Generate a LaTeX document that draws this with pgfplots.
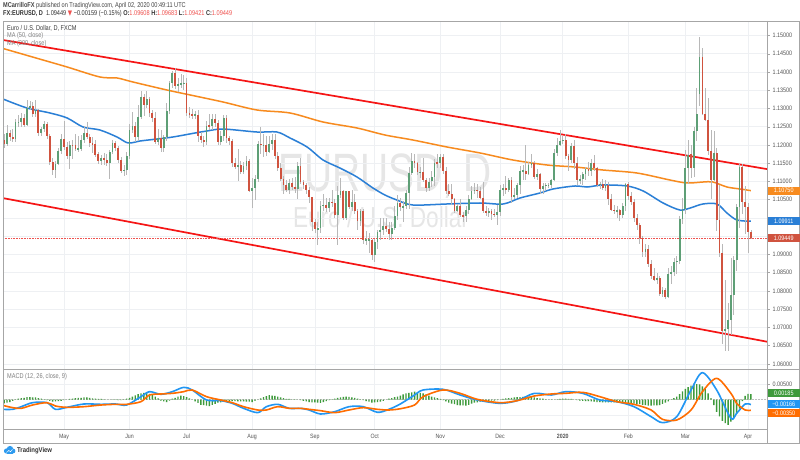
\documentclass[border=0pt]{standalone}
\usepackage{pgfplots}
\pgfplotsset{compat=1.18}
\usepackage{pgfplotstable}
\usepackage{fontspec}
\setmainfont{Liberation Sans}
\newfontfamily\symfont{DejaVu Sans}

\definecolor{upc}{HTML}{5E9F76}
\definecolor{dnc}{HTML}{D0533F}
\definecolor{wickc}{HTML}{B8B8B8}
\definecolor{ma50}{HTML}{2A7FD6}
\definecolor{ma200}{HTML}{F78B1F}
\definecolor{chan}{HTML}{F51515}
\definecolor{gridc}{HTML}{EEF0F3}
\definecolor{framec}{HTML}{A6A6A6}
\definecolor{txt}{HTML}{555555}
\definecolor{histc}{HTML}{3E9A3C}
\definecolor{macdb}{HTML}{2196F3}
\definecolor{macdo}{HTML}{FF6D00}
\definecolor{hdrred}{HTML}{EF5350}
\definecolor{wmark}{HTML}{E6E6E6}
\definecolor{logob}{HTML}{2E9BEF}

% daily candles: open high low close, MACD histogram
\pgfplotstableread{
o h l c hm
1.1217 1.1240 1.1198 1.1214 -0.0014
1.1214 1.1231 1.1192 1.1204 -0.0012
1.1204 1.1255 1.1198 1.1234 -0.0010
1.1234 1.1241 1.1212 1.1221 -0.0008
1.1221 1.1243 1.1208 1.1216 -0.0004
1.1216 1.1270 1.1209 1.1262 -0.0001
1.1262 1.1283 1.1250 1.1263 0.0003
1.1263 1.1288 1.1249 1.1275 0.0005
1.1275 1.1286 1.1250 1.1255 0.0006
1.1255 1.1324 1.1251 1.1302 0.0008
1.1302 1.1320 1.1295 1.1307 0.0008
1.1307 1.1318 1.1276 1.1284 0.0007
1.1284 1.1324 1.1278 1.1296 0.0007
1.1296 1.1300 1.1226 1.1233 0.0005
1.1233 1.1250 1.1226 1.1244 0.0003
1.1244 1.1267 1.1236 1.1259 0.0001
1.1259 1.1264 1.1216 1.1225 -0.0002
1.1225 1.1230 1.1146 1.1153 -0.0004
1.1153 1.1165 1.1118 1.1131 -0.0007
1.1131 1.1156 1.1110 1.1149 -0.0006
1.1149 1.1193 1.1145 1.1184 -0.0005
1.1184 1.1231 1.1176 1.1216 -0.0004
1.1216 1.1265 1.1187 1.1195 -0.0002
1.1195 1.1208 1.1162 1.1171 0.0000
1.1171 1.1210 1.1135 1.1201 0.0002
1.1201 1.1215 1.1163 1.1199 0.0003
1.1199 1.1230 1.1183 1.1190 0.0005
1.1190 1.1226 1.1180 1.1190 0.0006
1.1190 1.1228 1.1185 1.1215 0.0006
1.1215 1.1251 1.1206 1.1234 0.0007
1.1234 1.1264 1.1216 1.1223 0.0007
1.1223 1.1230 1.1194 1.1205 0.0006
1.1205 1.1223 1.1178 1.1203 0.0004
1.1203 1.1215 1.1166 1.1174 0.0003
1.1174 1.1182 1.1148 1.1157 0.0002
1.1157 1.1172 1.1146 1.1165 0.0002
1.1165 1.1179 1.1144 1.1160 0.0001
1.1160 1.1174 1.1142 1.1151 0.0000
1.1151 1.1186 1.1106 1.1181 0.0000
1.1181 1.1215 1.1176 1.1205 -0.0001
1.1205 1.1210 1.1184 1.1192 -0.0001
1.1192 1.1197 1.1152 1.1160 -0.0002
1.1160 1.1167 1.1124 1.1130 -0.0002
1.1130 1.1146 1.1116 1.1131 0.0001
1.1131 1.1180 1.1119 1.1169 0.0003
1.1169 1.1258 1.1163 1.1240 0.0006
1.1240 1.1290 1.1232 1.1253 0.0010
1.1253 1.1264 1.1208 1.1222 0.0014
1.1222 1.1310 1.1211 1.1276 0.0018
1.1276 1.1348 1.1272 1.1332 0.0020
1.1332 1.1340 1.1280 1.1311 0.0022
1.1311 1.1348 1.1302 1.1326 0.0024
1.1326 1.1332 1.1276 1.1288 0.0019
1.1288 1.1297 1.1262 1.1274 0.0015
1.1274 1.1290 1.1202 1.1208 0.0010
1.1208 1.1244 1.1200 1.1220 0.0004
1.1220 1.1240 1.1181 1.1193 -0.0003
1.1193 1.1228 1.1182 1.1221 -0.0006
1.1221 1.1315 1.1212 1.1293 -0.0008
1.1293 1.1375 1.1286 1.1369 -0.0003
1.1369 1.1404 1.1357 1.1398 0.0003
1.1398 1.1412 1.1354 1.1363 0.0006
1.1363 1.1385 1.1346 1.1366 0.0010
1.1366 1.1395 1.1357 1.1370 0.0013
1.1370 1.1391 1.1351 1.1370 0.0011
1.1370 1.1383 1.1280 1.1287 0.0008
1.1287 1.1304 1.1275 1.1284 0.0004
1.1284 1.1300 1.1271 1.1283 0.0000
1.1283 1.1294 1.1272 1.1283 -0.0006
1.1283 1.1297 1.1207 1.1226 -0.0011
1.1226 1.1237 1.1205 1.1214 -0.0017
1.1214 1.1226 1.1194 1.1208 -0.0018
1.1208 1.1266 1.1201 1.1253 -0.0020
1.1253 1.1285 1.1240 1.1252 -0.0021
1.1252 1.1285 1.1240 1.1270 -0.0017
1.1270 1.1286 1.1249 1.1261 -0.0014
1.1261 1.1269 1.1201 1.1209 -0.0010
1.1209 1.1237 1.1199 1.1225 -0.0009
1.1225 1.1283 1.1212 1.1275 -0.0007
1.1275 1.1282 1.1205 1.1218 -0.0006
1.1218 1.1226 1.1201 1.1210 -0.0004
1.1210 1.1216 1.1140 1.1150 -0.0005
1.1150 1.1164 1.1133 1.1140 -0.0005
1.1140 1.1188 1.1101 1.1146 -0.0006
1.1146 1.1156 1.1122 1.1127 -0.0006
1.1127 1.1153 1.1120 1.1143 -0.0006
1.1143 1.1169 1.1132 1.1155 -0.0007
1.1155 1.1163 1.1070 1.1075 -0.0007
1.1075 1.1111 1.1027 1.1083 -0.0008
1.1083 1.1117 1.1050 1.1108 -0.0004
1.1108 1.1212 1.1100 1.1204 0.0000
1.1204 1.1250 1.1175 1.1199 0.0004
1.1199 1.1231 1.1167 1.1199 0.0008
1.1199 1.1224 1.1170 1.1180 0.0011
1.1180 1.1225 1.1177 1.1202 0.0015
1.1202 1.1230 1.1186 1.1213 0.0013
1.1213 1.1230 1.1162 1.1171 0.0012
1.1171 1.1180 1.1130 1.1138 0.0010
1.1138 1.1151 1.1100 1.1107 0.0007
1.1107 1.1114 1.1065 1.1090 0.0005
1.1090 1.1104 1.1072 1.1078 0.0002
1.1078 1.1106 1.1066 1.1096 0.0002
1.1096 1.1111 1.1076 1.1085 0.0001
1.1085 1.1113 1.1069 1.1080 0.0001
1.1080 1.1153 1.1051 1.1143 0.0000
1.1143 1.1165 1.1092 1.1100 -0.0002
1.1100 1.1105 1.1080 1.1090 -0.0004
1.1090 1.1097 1.1066 1.1078 -0.0006
1.1078 1.1084 1.1042 1.1057 -0.0008
1.1057 1.1058 1.0964 1.0988 -0.0009
1.0988 1.0998 1.0958 1.0969 -0.0009
1.0969 1.0990 1.0926 1.0973 -0.0010
1.0973 1.1048 1.0960 1.1034 -0.0011
1.1034 1.1067 1.1019 1.1035 -0.0008
1.1035 1.1055 1.1016 1.1027 -0.0005
1.1027 1.1055 1.1017 1.1045 -0.0002
1.1045 1.1076 1.1030 1.1042 0.0001
1.1042 1.1053 1.1000 1.1009 0.0003
1.1009 1.1087 1.0927 1.1063 0.0006
1.1063 1.1110 1.1055 1.1073 0.0007
1.1073 1.1077 1.0995 1.1001 0.0009
1.1001 1.1075 1.0995 1.1073 0.0010
1.1073 1.1075 1.1025 1.1029 0.0009
1.1029 1.1076 1.1019 1.1043 0.0007
1.1043 1.1065 1.1010 1.1018 0.0006
1.1018 1.1025 1.0966 1.0991 0.0003
1.0991 1.1025 1.0979 1.1020 0.0001
1.1020 1.1025 1.0928 1.0940 -0.0002
1.0940 1.0965 1.0927 1.0940 -0.0005
1.0940 1.0960 1.0903 1.0940 -0.0007
1.0940 1.0943 1.0885 1.0899 -0.0010
1.0899 1.0943 1.0879 1.0933 -0.0009
1.0933 1.0966 1.0914 1.0962 -0.0008
1.0962 1.1000 1.0939 1.0967 -0.0007
1.0967 1.1000 1.0954 1.0978 -0.0004
1.0978 1.0999 1.0963 1.0971 0.0000
1.0971 1.0990 1.0941 1.0955 0.0003
1.0955 1.0988 1.0940 1.0972 0.0005
1.0972 1.1033 1.0968 1.1005 0.0008
1.1005 1.1063 1.0994 1.1040 0.0010
1.1040 1.1055 1.1020 1.1030 0.0013
1.1030 1.1047 1.0990 1.1033 0.0017
1.1033 1.1077 1.1026 1.1068 0.0020
1.1068 1.1139 1.1024 1.1124 0.0022
1.1124 1.1179 1.1118 1.1155 0.0024
1.1155 1.1175 1.1136 1.1150 0.0026
1.1150 1.1154 1.1117 1.1125 0.0024
1.1125 1.1140 1.1109 1.1127 0.0022
1.1127 1.1164 1.1098 1.1103 0.0020
1.1103 1.1109 1.1072 1.1081 0.0017
1.1081 1.1110 1.1073 1.1100 0.0013
1.1100 1.1128 1.1085 1.1112 0.0010
1.1112 1.1163 1.1088 1.1152 0.0007
1.1152 1.1175 1.1138 1.1151 0.0005
1.1151 1.1176 1.1136 1.1166 0.0002
1.1166 1.1175 1.1120 1.1128 -0.0002
1.1128 1.1140 1.1065 1.1074 -0.0006
1.1074 1.1093 1.1061 1.1067 -0.0010
1.1067 1.1092 1.1036 1.1051 -0.0013
1.1051 1.1054 1.1014 1.1019 -0.0015
1.1019 1.1038 1.1016 1.1032 -0.0018
1.1032 1.1052 1.1004 1.1007 -0.0019
1.1007 1.1017 1.0989 1.1006 -0.0019
1.1006 1.1033 1.0990 1.1022 -0.0020
1.1022 1.1063 1.1010 1.1052 -0.0017
1.1052 1.1089 1.1049 1.1075 -0.0013
1.1075 1.1096 1.1066 1.1077 -0.0010
1.1077 1.1093 1.1056 1.1075 -0.0009
1.1075 1.1085 1.1051 1.1055 -0.0007
1.1055 1.1098 1.1014 1.1020 -0.0006
1.1020 1.1032 1.1005 1.1013 -0.0004
1.1013 1.1027 1.1004 1.1019 -0.0004
1.1019 1.1025 1.0995 1.1011 -0.0003
1.1011 1.1026 1.1003 1.1009 -0.0003
1.1009 1.1036 1.0981 1.1017 -0.0002
1.1017 1.1090 1.1005 1.1078 0.0000
1.1078 1.1092 1.1060 1.1081 0.0002
1.1081 1.1116 1.1066 1.1077 0.0004
1.1077 1.1110 1.1072 1.1104 0.0005
1.1104 1.1112 1.1040 1.1059 0.0006
1.1059 1.1083 1.1053 1.1063 0.0007
1.1063 1.1095 1.1054 1.1090 0.0008
1.1090 1.1143 1.1066 1.1130 0.0008
1.1130 1.1145 1.1103 1.1130 0.0009
1.1130 1.1200 1.1105 1.1120 0.0009
1.1120 1.1154 1.1119 1.1144 0.0010
1.1144 1.1175 1.1136 1.1151 0.0008
1.1151 1.1155 1.1107 1.1113 0.0007
1.1113 1.1135 1.1103 1.1121 0.0005
1.1121 1.1123 1.1067 1.1079 0.0004
1.1079 1.1095 1.1065 1.1089 0.0003
1.1089 1.1096 1.1074 1.1090 0.0001
1.1090 1.1096 1.1082 1.1090 0.0000
1.1090 1.1108 1.1082 1.1103 -0.0001
1.1103 1.1188 1.1100 1.1177 0.0000
1.1177 1.1220 1.1170 1.1199 0.0001
1.1199 1.1240 1.1196 1.1212 0.0002
1.1212 1.1225 1.1203 1.1213 0.0003
1.1213 1.1229 1.1163 1.1171 0.0003
1.1171 1.1174 1.1128 1.1160 0.0002
1.1160 1.1206 1.1150 1.1196 0.0002
1.1196 1.1214 1.1134 1.1152 0.0000
1.1152 1.1166 1.1090 1.1104 -0.0002
1.1104 1.1117 1.1093 1.1106 -0.0003
1.1106 1.1127 1.1090 1.1120 -0.0004
1.1120 1.1141 1.1103 1.1135 -0.0005
1.1135 1.1154 1.1115 1.1128 -0.0005
1.1128 1.1162 1.1116 1.1150 -0.0006
1.1150 1.1172 1.1130 1.1136 -0.0007
1.1136 1.1140 1.1084 1.1091 -0.0008
1.1091 1.1100 1.1080 1.1094 -0.0008
1.1094 1.1108 1.1077 1.1082 -0.0009
1.1082 1.1105 1.1075 1.1091 -0.0009
1.1091 1.1100 1.1036 1.1053 -0.0009
1.1053 1.1065 1.1019 1.1023 -0.0009
1.1023 1.1037 1.1010 1.1019 -0.0009
1.1019 1.1032 1.1000 1.1022 -0.0009
1.1022 1.1025 1.0992 1.1009 -0.0010
1.1009 1.1042 1.1000 1.1032 -0.0010
1.1032 1.1096 1.1019 1.1093 -0.0010
1.1093 1.1098 1.1050 1.1060 -0.0011
1.1060 1.1070 1.1035 1.1044 -0.0012
1.1044 1.1051 1.0990 1.1000 -0.0013
1.1000 1.1010 1.0966 1.0980 -0.0014
1.0980 1.0985 1.0930 1.0944 -0.0015
1.0944 1.0950 1.0892 1.0906 -0.0017
1.0906 1.0930 1.0892 1.0916 -0.0018
1.0916 1.0926 1.0865 1.0873 -0.0020
1.0873 1.0885 1.0832 1.0840 -0.0020
1.0840 1.0863 1.0828 1.0830 -0.0019
1.0830 1.0850 1.0820 1.0836 -0.0019
1.0836 1.0841 1.0786 1.0791 -0.0018
1.0791 1.0812 1.0784 1.0804 -0.0014
1.0804 1.0808 1.0778 1.0785 -0.0010
1.0785 1.0863 1.0780 1.0847 -0.0006
1.0847 1.0868 1.0820 1.0852 -0.0001
1.0852 1.0891 1.0840 1.0880 0.0005
1.0880 1.0896 1.0848 1.0883 0.0010
1.0883 1.1005 1.0875 1.0996 0.0018
1.0996 1.1054 1.0985 1.1026 0.0027
1.1026 1.1186 1.1011 1.1137 0.0035
1.1137 1.1214 1.1092 1.1174 0.0041
1.1174 1.1200 1.1110 1.1136 0.0046
1.1136 1.1250 1.1112 1.1238 0.0052
1.1238 1.1355 1.1210 1.1285 0.0051
1.1340 1.1496 1.1306 1.1440 0.0050
1.1440 1.1465 1.1281 1.1285 0.0043
1.1285 1.1355 1.1267 1.1268 0.0035
1.1268 1.1330 1.1172 1.1184 0.0020
1.1184 1.1240 1.1052 1.1105 0.0005
1.1105 1.1238 1.1100 1.1178 -0.0018
1.1178 1.1191 1.0964 1.0994 -0.0040
1.0994 1.1090 1.0893 1.0904 -0.0055
1.0904 1.0929 1.0654 1.0690 -0.0070
1.0690 1.0831 1.0636 1.0696 -0.0077
1.0696 1.0766 1.0636 1.0721 -0.0083
1.0721 1.0890 1.0680 1.0788 -0.0072
1.0788 1.0897 1.0735 1.0886 -0.0060
1.0886 1.1038 1.0856 1.1031 -0.0045
1.1031 1.1147 1.0972 1.1141 -0.0030
1.1141 1.1147 1.1012 1.1045 -0.0005
1.1045 1.1087 1.0955 1.1030 0.0012
1.1030 1.1040 1.0905 1.0962 0.0019
1.0961 1.0968 1.0942 1.0945 0.0018
}\candles

% MACD line and signal line
\pgfplotstableread{
x m s
0 -0.00319 -0.00177
4 -0.00319 -0.00264
7 -0.00232 -0.00286
11 -0.00100 -0.00177
16 -0.00100 -0.00100
19 -0.00319 -0.00210
23 -0.00254 -0.00254
29 -0.00144 -0.00232
35 -0.00155 -0.00177
40 -0.00144 -0.00155
44 -0.00177 -0.00155
49 0.00096 -0.00068
52 0.00260 0.00151
56 0.00173 0.00184
60 0.00260 0.00205
64 0.00402 0.00260
67 0.00315 0.00315
72 -0.00013 0.00096
77 -0.00035 -0.00013
81 -0.00122 -0.00100
85 -0.00286 -0.00232
90 -0.00428 -0.00341
93 -0.00232 -0.00341
97 -0.00155 -0.00232
101 -0.00286 -0.00286
105 -0.00286 -0.00286
108 -0.00341 -0.00319
112 -0.00472 -0.00363
117 -0.00396 -0.00428
122 -0.00232 -0.00341
127 -0.00232 -0.00264
132 -0.00417 -0.00319
136 -0.00319 -0.00341
140 -0.00144 -0.00300
145 0.00151 -0.00177
148 0.00315 0.00096
155 0.00337 0.00315
161 0.00151 0.00205
167 -0.00013 0.00009
175 -0.00122 -0.00100
181 -0.00035 -0.00035
187 0.00205 0.00118
193 0.00151 0.00184
198 0.00260 0.00205
204 0.00205 0.00238
210 -0.00013 0.00096
216 -0.00068 -0.00068
222 -0.00232 -0.00155
228 -0.00560 -0.00341
232 -0.00756 -0.00647
237 -0.00560 -0.00669
242 0.00315 -0.00341
246 0.00883 0.00260
251 0.00315 0.00697
256 -0.00614 0.00205
258 -0.00450 -0.00122
261 -0.00144 -0.00341
263 -0.00166 -0.00350
}\macdtab

\newcommand{\tvfont}[1]{\fontsize{#1}{#1}\selectfont}

\begin{document}
\begin{tikzpicture}[x=1pt,y=1pt]
\path[fill=white,use as bounding box] (0,0) rectangle (800,460);

% watermark
\node[anchor=base, text=wmark, font=\tvfont{54}, xscale=0.72] at (385,268) {EURUSD, D};
\node[anchor=base, text=wmark, font=\tvfont{29}, xscale=0.78] at (381,232) {Euro / U.S. Dollar};

\begin{axis}[at={(3pt,90.5pt)}, anchor=south west, scale only axis,
  width=764pt, height=348.5pt,
  xmin=0.596, xmax=268.66, ymin=1.058493, ymax=1.153973,
  axis line style={framec, line width=0.6pt},
  xtick={22,45,65,88,110,131,154,175,197,220,240,262}, xticklabels={},
  x tick style={draw=none},
  ytick={1.06,1.065,1.07,1.075,1.08,1.085,1.09,1.095,1.10,1.105,1.11,1.115,1.12,1.125,1.13,1.135,1.14,1.145,1.15},
  yticklabels={1.06000,1.06500,1.07000,1.07500,1.08000,1.08500,1.09000,,,1.10500,1.11000,1.11500,1.12000,1.12500,1.13000,1.13500,1.14000,1.14500,1.15000},
  ytick pos=right, yticklabel pos=right,
  tick align=outside, major tick length=2.5pt,
  y tick style={framec, line width=0.5pt},
  scaled y ticks=false,
  yticklabel style={font=\tvfont{6.4}, text=txt, xscale=0.85},
  grid=major, major grid style={gridc, line width=0.6pt},
]
% channel
\addplot[chan, line width=1.7pt] coordinates {(0.596,1.14877) (268.66,1.11340)};
\addplot[chan, line width=1.7pt] coordinates {(0.596,1.10545) (268.66,1.06611)};
% last price line
\addplot[hdrred, densely dotted, line width=0.6pt] coordinates {(0.596,1.09449) (268.66,1.09449)};
% MA 200
\addplot[ma200, line width=1.5pt, smooth] coordinates {
(0,1.14658) (14.6,1.14329) (23.1,1.14137) (34.6,1.13863) (40.6,1.13836) (46.2,1.13726)
(58.1,1.13507) (68,1.13342) (77.8,1.13178) (89.7,1.12959) (101.3,1.12877) (112.9,1.12630)
(124.8,1.12466) (134.6,1.12274) (144.4,1.12137) (156.4,1.11945) (168,1.11781) (179.5,1.11589)
(191.5,1.11452) (201.3,1.11397) (211.1,1.11315) (223,1.11233) (234.6,1.11041) (240.6,1.10959)
(246.2,1.10986) (249.7,1.10986) (254.6,1.10849) (259.2,1.10795) (263,1.10750)};
% MA 50
\addplot[ma50, line width=1.5pt, smooth] coordinates {
(0.6,1.13260) (9,1.13014) (17.1,1.12877) (23.1,1.12740) (28.7,1.12493) (34.6,1.12411)
(40.6,1.12219) (44.5,1.12055) (48.7,1.12110) (54.6,1.12164) (60.2,1.12219) (68,1.12329)
(72.2,1.12384) (77.8,1.12438) (89.7,1.12356) (96.7,1.12356) (101.3,1.12192) (107.3,1.11945)
(112.9,1.11589) (118.8,1.11370) (124.8,1.11123) (130.4,1.10822) (134.6,1.10630) (138.8,1.10493)
(144.4,1.10356) (156.4,1.10384) (168,1.10411) (176.1,1.10384) (182,1.10548) (189,1.10685)
(193.6,1.10795) (201.3,1.10877) (205.5,1.10849) (211.1,1.10904) (219.5,1.10877) (225.2,1.10740)
(232.2,1.10411) (238.1,1.10219) (241.7,1.10274) (246.2,1.10384) (251.1,1.10384) (254.6,1.10137)
(258.1,1.09945) (263,1.09911)};
% wicks
\addplot[only marks, mark=*, mark size=0pt, mark options={draw=none, fill=none}, forget plot,
  error bars/.cd, y dir=both, y explicit, error mark=none,
  error bar style={wickc, line width=0.6pt}]
  table[x expr=\coordindex, y expr={(\thisrow{h}+\thisrow{l})/2},
        y error expr={(\thisrow{h}-\thisrow{l})/2}] {\candles};
% up bodies
\addplot[only marks, mark=*, mark size=0pt, mark options={draw=none, fill=none}, forget plot,
  restrict expr to domain={\thisrow{c}-\thisrow{o}}{0:1},
  error bars/.cd, y dir=both, y explicit, error mark=none,
  error bar style={upc, line width=1.8pt}]
  table[x expr=\coordindex, y expr={(\thisrow{o}+\thisrow{c})/2},
        y error expr={max(abs(\thisrow{c}-\thisrow{o})/2,0.00012)}] {\candles};
% down bodies
\addplot[only marks, mark=*, mark size=0pt, mark options={draw=none, fill=none}, forget plot,
  restrict expr to domain={\thisrow{c}-\thisrow{o}}{-1:-0.00001},
  error bars/.cd, y dir=both, y explicit, error mark=none,
  error bar style={dnc, line width=1.8pt}]
  table[x expr=\coordindex, y expr={(\thisrow{o}+\thisrow{c})/2},
        y error expr={max(abs(\thisrow{c}-\thisrow{o})/2,0.00012)}] {\candles};
\end{axis}

\begin{axis}[at={(3pt,31pt)}, anchor=south west, scale only axis,
  width=764pt, height=59.5pt,
  xmin=0.596, xmax=268.66, ymin=-0.009639, ymax=0.009869,
  axis line style={framec, line width=0.6pt},
  xtick={22,45,65,88,110,131,154,175,197,220,240,262},
  xticklabels={May,Jun,Jul,Aug,Sep,Oct,Nov,Dec,\textbf{2020},Feb,Mar,Apr},
  x tick style={draw=none},
  xticklabel style={font=\tvfont{6.2}, text=txt, xscale=0.85, yshift=1pt},
  ytick={-0.005,0.005}, yticklabels={,0.00500},
  ytick pos=right, yticklabel pos=right,
  tick align=outside, major tick length=2.5pt,
  y tick style={framec, line width=0.5pt},
  scaled y ticks=false,
  yticklabel style={font=\tvfont{6.4}, text=txt, xscale=0.85},
  grid=major, major grid style={gridc, line width=0.6pt},
]
\addplot[gray!50, densely dotted, line width=0.5pt] coordinates {(0.596,0) (268.66,0)};
\addplot[ybar, bar width=1.4pt, fill=histc, draw=none]
  table[x expr=\coordindex, y=hm] {\candles};
\addplot[macdb, line width=1.6pt, smooth] table[x=x, y=m] {\macdtab};
\addplot[macdo, line width=1.6pt, smooth] table[x=x, y=s] {\macdtab};
\end{axis}

% frame
\draw[framec, line width=0.6pt] (3,17) -- (3,439) -- (799.5,439) -- (799.5,17) -- cycle;
\draw[framec, line width=0.6pt] (767,439) -- (767,17);
\draw[framec, line width=0.6pt] (767,90.5) -- (799.5,90.5);

% header
\node[anchor=west, inner sep=0, text=txt!80!black, font=\tvfont{7}, xscale=0.8] at (3,454.5)
  {\textbf{MCarrilloFX} published on TradingView.com, April 02, 2020 00:49:11 UTC};
\node[anchor=west, inner sep=0, text=txt!60!black, font=\tvfont{7}, xscale=0.8] at (3,446)
  {\textbf{FX:EURUSD, D}\ \ 1.09449 {\color{hdrred}\symfont ▼} −0.00159 (−0.15\%)
   \textbf{O:}{\color{hdrred}1.09608} \textbf{H:}{\color{hdrred}1.09683}
   \textbf{L:}{\color{hdrred}1.09421} \textbf{C:}{\color{hdrred}1.09449}};

% legend texts
\node[anchor=west, inner sep=0, text=txt!70!black, font=\tvfont{7}, xscale=0.8] at (7,432) {Euro / U.S. Dollar, D, FXCM};
\node[anchor=west, inner sep=0, text=gray, font=\tvfont{7}, xscale=0.8] at (7,424) {MA (50, close)};
\node[anchor=west, inner sep=0, text=gray, font=\tvfont{7}, xscale=0.8] at (7,416) {MA (200, close)};
\node[anchor=west, inner sep=0, text=gray, font=\tvfont{7}, xscale=0.8] at (7,83) {MACD (12, 26, close, 9)};

% value boxes
\tikzset{vbox/.style={anchor=west, inner sep=0, minimum width=32pt, minimum height=8pt,
  text=white, font=\tvfont{6.4}}}
\node[vbox, fill=ma200] at (767.5,269.4) {\scalebox{0.85}[1]{1.10750}};
\node[vbox, fill=ma50] at (767.5,238.8) {\scalebox{0.85}[1]{1.09911}};
\node[vbox, fill=dnc] at (767.5,221.9) {\scalebox{0.85}[1]{1.09449}};
\node[vbox, fill=histc] at (767.5,67) {\scalebox{0.85}[1]{0.00185}};
\node[vbox, fill=macdb] at (767.5,56) {\scalebox{0.85}[1]{−0.00166}};
\node[vbox, fill=macdo] at (767.5,47) {\scalebox{0.85}[1]{−0.00350}};

% logo
\fill[logob] (6.5,9) circle (2.6) (10,10.8) circle (3.3) (13,9) circle (2.4);
\fill[logob] (6.5,6.4) rectangle (13,9);
\draw[white, line width=0.5pt] (6.5,7.5) -- (8.8,9.5) -- (10.5,8.3) -- (12.5,10.5);
\node[anchor=west, inner sep=0, text=txt!60!black, font=\tvfont{7}, xscale=0.85] at (17,9.2) {\textbf{TradingView}};
\end{tikzpicture}
\end{document}
